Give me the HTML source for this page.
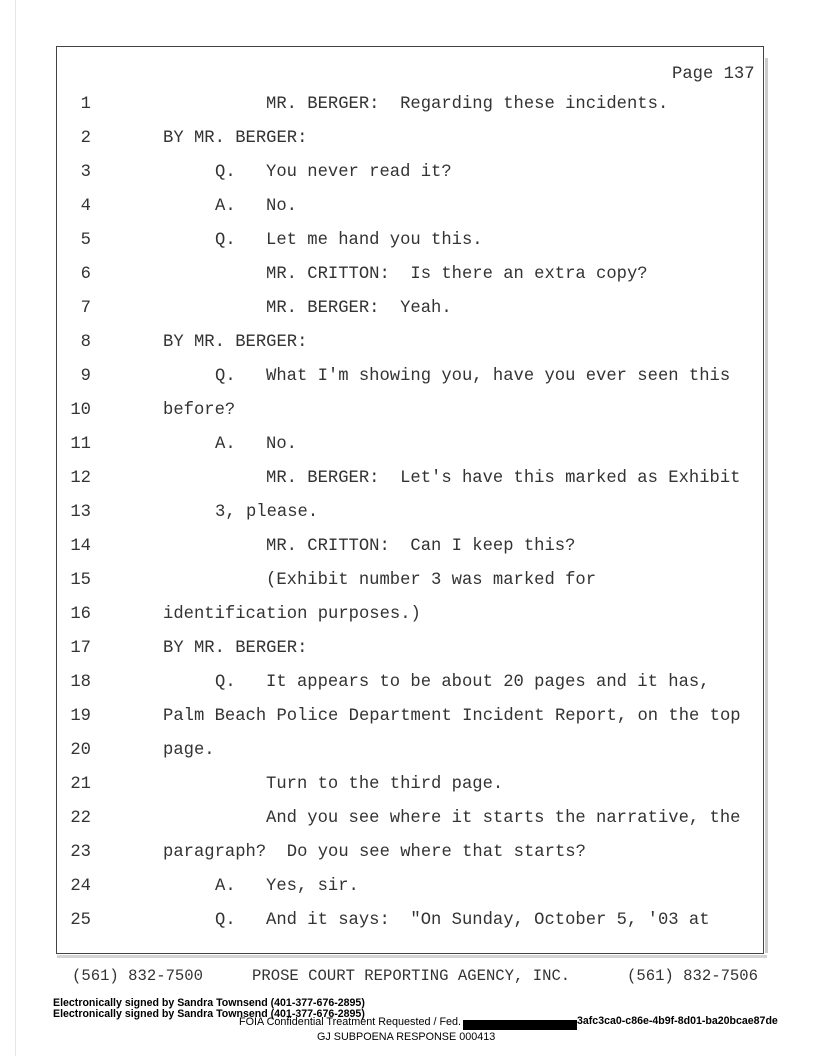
<!DOCTYPE html>
<html><head><style>
body{margin:0;background:#fff;}
.pg{position:relative;width:816px;height:1056px;overflow:hidden;font-family:"Liberation Mono",monospace;color:#333;}
.box{position:absolute;left:56px;top:46px;width:706px;height:906px;border:1.5px solid #444;}
.strip{position:absolute;left:765px;top:58px;width:3px;height:895px;background:#ccc;}
.bstrip{position:absolute;left:57px;top:955px;width:710px;height:3px;background:#d4d4d4;}
.t{position:absolute;font-size:17.2px;white-space:pre;line-height:20px;}
.n{position:absolute;font-size:17.2px;line-height:20px;width:40px;text-align:right;left:51px;}
.f{position:absolute;font-size:15.6px;white-space:pre;line-height:18px;}
.s{position:absolute;font-family:"Liberation Sans",sans-serif;font-size:10.6px;white-space:pre;color:#000;line-height:12px;}
</style></head><body><div class="pg">
<div style="position:absolute;left:15px;top:0;width:1px;height:1056px;background:#e6e6e6"></div>
<div class="box"></div><div class="strip"></div><div class="bstrip"></div>
<div class="t" style="left:672px;top:65px">Page 137</div>
<div id="L"></div>
<div class="f" style="left:72px;top:967px">(561) 832-7500</div>
<div class="f" style="left:252px;top:967px">PROSE COURT REPORTING AGENCY, INC.</div>
<div class="f" style="left:627px;top:967px">(561) 832-7506</div>
<div class="s" style="left:53px;top:997px;font-weight:bold">Electronically signed by Sandra Townsend (401-377-676-2895)</div>
<div class="s" style="left:53px;top:1008px;font-weight:bold">Electronically signed by Sandra Townsend (401-377-676-2895)</div>
<div class="s" style="left:577px;top:1015px;font-weight:bold">3afc3ca0-c86e-4b9f-8d01-ba20bcae87de</div>
<div class="s" style="left:239px;top:1016px;font-size:10.8px">FOIA Confidential Treatment Requested / Fed.</div>
<div style="position:absolute;left:463px;top:1020px;width:114px;height:10px;background:#000"></div>
<div class="s" style="left:317px;top:1031px;font-size:10.8px">GJ SUBPOENA RESPONSE 000413</div>
<script>
var B=163,Q=215,M=266;
var L=[
[M,"MR. BERGER:  Regarding these incidents."],
[B,"BY MR. BERGER:"],
[Q,"Q.",M,"You never read it?"],
[Q,"A.",M,"No."],
[Q,"Q.",M,"Let me hand you this."],
[M,"MR. CRITTON:  Is there an extra copy?"],
[M,"MR. BERGER:  Yeah."],
[B,"BY MR. BERGER:"],
[Q,"Q.",M,"What I'm showing you, have you ever seen this"],
[B,"before?"],
[Q,"A.",M,"No."],
[M,"MR. BERGER:  Let's have this marked as Exhibit"],
[Q,"3, please."],
[M,"MR. CRITTON:  Can I keep this?"],
[M,"(Exhibit number 3 was marked for"],
[B,"identification purposes.)"],
[B,"BY MR. BERGER:"],
[Q,"Q.",M,"It appears to be about 20 pages and it has,"],
[B,"Palm Beach Police Department Incident Report, on the top"],
[B,"page."],
[M,"Turn to the third page."],
[M,"And you see where it starts the narrative, the"],
[B,"paragraph?  Do you see where that starts?"],
[Q,"A.",M,"Yes, sir."],
[Q,"Q.",M,"And it says:  \"On Sunday, October 5, '03 at"]];
var h="";
for(var i=0;i<25;i++){var y=95+i*34;var r=L[i];
h+='<div class="n" style="top:'+y+'px">'+(i+1)+'</div>';
for(var k=0;k<r.length;k+=2)h+='<div class="t" style="left:'+r[k]+'px;top:'+y+'px">'+r[k+1]+'</div>';}
document.getElementById("L").innerHTML=h;
</script>
</div></body></html>
